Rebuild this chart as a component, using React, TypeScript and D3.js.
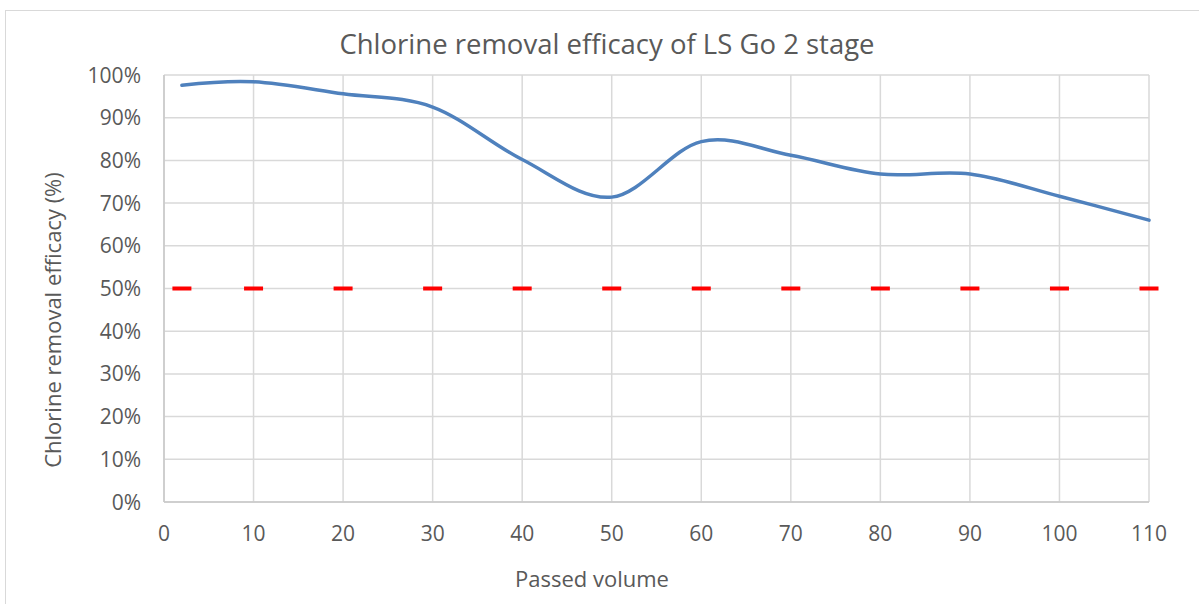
import React from "react";
import * as d3 from "d3";

// passed volume vs. removal efficacy (fraction)
const volumes = [2, 10, 20, 30, 40, 50, 60, 70, 80, 90, 100, 110];
const efficacy = [0.976, 0.984, 0.956, 0.925, 0.802, 0.714, 0.844, 0.812, 0.768, 0.768, 0.716, 0.66];
// 50% reference marks
const limitVolumes = [2, 10, 20, 30, 40, 50, 60, 70, 80, 90, 100, 110];
const limitValue = 0.5;

const xTicks = [0, 10, 20, 30, 40, 50, 60, 70, 80, 90, 100, 110];
const yTicks = [0, 0.1, 0.2, 0.3, 0.4, 0.5, 0.6, 0.7, 0.8, 0.9, 1];

const W = 1199;
const H = 604;
const font = "'Open Sans', 'Noto Sans', sans-serif";
const textColor = "#595959";

const App = () => {
  const x = d3.scaleLinear().domain([0, 110]).range([164, 1149]);
  const y = d3.scaleLinear().domain([0, 1]).range([502, 75]);

  const line = d3
    .line<number>()
    .x((_d, i) => x(volumes[i]))
    .y((d) => y(d))
    .curve(d3.curveCardinal.tension(0));

  const pct = d3.format(".0%");
  const [x0, x1] = x.range();
  const [y0, y1] = y.range();
  const yMid = 320;

  return (
    <svg width={W} height={H} style={{ display: "block", position: "absolute", left: 0, top: 0 }}>
      <rect x={0} y={0} width={W} height={H} fill="#fff" />
      {/* chart area border */}
      <rect x={5.5} y={10.5} width={1300} height={700} fill="none" stroke="#d9d9d9" strokeWidth={1} />

      {/* title */}
      <text x={607} y={54} textAnchor="middle" fontFamily={font} fontSize={27.5} fill={textColor}>
        Chlorine removal efficacy of LS Go 2 stage
      </text>

      {/* grid */}
      <g stroke="#d9d9d9" strokeWidth={1.5}>
        {yTicks.map((t) => (
          <line key={"h" + t} x1={x0} x2={x1} y1={y(t)} y2={y(t)} />
        ))}
        {xTicks.map((t) => (
          <line key={"v" + t} x1={x(t)} x2={x(t)} y1={y0} y2={y1} />
        ))}
      </g>
      {/* axis lines */}
      <g stroke="#c8c8c8" strokeWidth={1.5}>
        <line x1={x0} x2={x0} y1={y0} y2={y1} />
        <line x1={x0} x2={x1} y1={y0} y2={y0} />
      </g>

      {/* tick labels */}
      <g fontFamily={font} fontSize={21} fill={textColor}>
        {yTicks.map((t) => (
          <text key={"yl" + t} x={141} y={y(t)} dy="0.36em" textAnchor="end">
            {pct(t)}
          </text>
        ))}
        {xTicks.map((t) => (
          <text key={"xl" + t} x={x(t)} y={541} textAnchor="middle">
            {t}
          </text>
        ))}
      </g>

      {/* axis titles */}
      <text x={592} y={587} textAnchor="middle" fontFamily={font} fontSize={22} fill={textColor}>
        Passed volume
      </text>
      <text
        transform={`translate(61, ${yMid}) rotate(-90)`}
        textAnchor="middle"
        fontFamily={font}
        fontSize={22}
        fill={textColor}
      >
        Chlorine removal efficacy (%)
      </text>

      {/* 50% marks */}
      <g fill="#ff0000">
        {limitVolumes.map((v) => (
          <rect key={"m" + v} x={x(v) - 9.5} y={y(limitValue) - 2} width={19} height={4} />
        ))}
      </g>

      {/* efficacy curve */}
      <path d={line(efficacy) || ""} fill="none" stroke="#4f81bd" strokeWidth={3.5} strokeLinecap="round" />
    </svg>
  );
};

export default App;
